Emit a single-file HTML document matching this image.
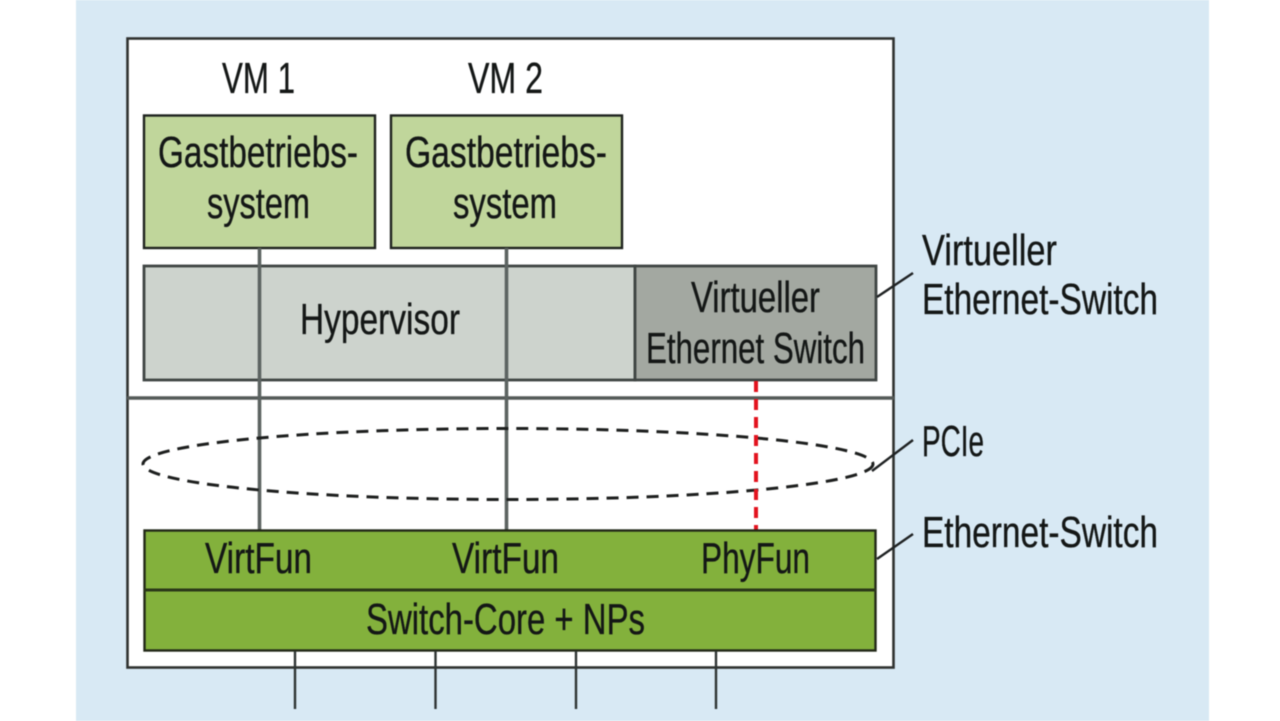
<!DOCTYPE html>
<html>
<head>
<meta charset="utf-8">
<style>
html,body{margin:0;padding:0;background:#fff;width:1280px;height:721px;overflow:hidden}
svg{display:block}
text{font-family:"Liberation Sans",sans-serif;font-size:44px;fill:#141716;stroke:#141716;stroke-width:0.35px;text-anchor:start}
</style>
</head>
<body>
<svg width="1280" height="721" viewBox="0 0 1280 721" xmlns="http://www.w3.org/2000/svg">
<g style="filter:blur(0.6px)">
<rect x="76" y="0" width="1133" height="721" fill="#d8e9f4"/>
<rect x="127.5" y="38.5" width="766" height="629" fill="#fff" stroke="#2f3230" stroke-width="2.6"/>
<line x1="127" y1="398" x2="894" y2="398" stroke="#555a58" stroke-width="3.4"/>

<rect x="144" y="115.5" width="231" height="132.5" fill="#c0d69b" stroke="#1f231f" stroke-width="2.4"/>
<rect x="391" y="115.5" width="231" height="132.5" fill="#c0d69b" stroke="#1f231f" stroke-width="2.4"/>

<rect x="144" y="266" width="491" height="114" fill="#cdd3cd" stroke="#3f4543" stroke-width="2.8"/>
<rect x="635" y="266" width="241" height="114" fill="#a3a8a1" stroke="#3f4543" stroke-width="2.8"/>

<line x1="259.500" y1="248" x2="259.500" y2="530" stroke="#5c6361" stroke-width="3.6"/>
<line x1="506.500" y1="248" x2="506.500" y2="530" stroke="#5c6361" stroke-width="3.6"/>

<ellipse cx="508" cy="464" rx="365" ry="35.500" fill="none" stroke="#1d1f1e" stroke-width="3" stroke-dasharray="12 8"/>
<line x1="756" y1="381" x2="756" y2="530" stroke="#e3141f" stroke-width="4" stroke-dasharray="11 7"/>

<rect x="144.500" y="530.500" width="731" height="120" fill="#83b13c" stroke="#222818" stroke-width="2.400"/>
<line x1="144" y1="590" x2="876" y2="590" stroke="#2a3818" stroke-width="3"/>

<g stroke="#2f3433" stroke-width="2.400">
<line x1="295" y1="651" x2="295" y2="709"/>
<line x1="435.500" y1="651" x2="435.500" y2="709"/>
<line x1="576" y1="651" x2="576" y2="709"/>
<line x1="716" y1="651" x2="716" y2="709"/>
</g>

<g stroke="#1f2223" stroke-width="2.400" fill="none">
<line x1="877" y1="297" x2="913" y2="273"/>
<line x1="872" y1="471" x2="913" y2="440"/>
<line x1="877" y1="559" x2="913" y2="534"/>
</g>

<text x="222" y="93" textLength="73" lengthAdjust="spacingAndGlyphs">VM 1</text>
<text x="468" y="93" textLength="75" lengthAdjust="spacingAndGlyphs">VM 2</text>
<text x="158" y="167" textLength="200" lengthAdjust="spacingAndGlyphs">Gastbetriebs-</text>
<text x="207" y="218" textLength="103" lengthAdjust="spacingAndGlyphs">system</text>
<text x="405" y="167" textLength="202" lengthAdjust="spacingAndGlyphs">Gastbetriebs-</text>
<text x="453" y="218" textLength="104" lengthAdjust="spacingAndGlyphs">system</text>
<text x="300" y="334" textLength="160" lengthAdjust="spacingAndGlyphs">Hypervisor</text>
<text x="691" y="312" textLength="129" lengthAdjust="spacingAndGlyphs">Virtueller</text>
<text x="646" y="363" textLength="219" lengthAdjust="spacingAndGlyphs">Ethernet Switch</text>
<text x="922" y="265" textLength="135" lengthAdjust="spacingAndGlyphs">Virtueller</text>
<text x="922" y="314" textLength="236" lengthAdjust="spacingAndGlyphs">Ethernet-Switch</text>
<text x="922" y="456" textLength="62" lengthAdjust="spacingAndGlyphs">PCIe</text>
<text x="922" y="547" textLength="236" lengthAdjust="spacingAndGlyphs">Ethernet-Switch</text>
<text x="205" y="573" textLength="107" lengthAdjust="spacingAndGlyphs">VirtFun</text>
<text x="452" y="573" textLength="107" lengthAdjust="spacingAndGlyphs">VirtFun</text>
<text x="701" y="573" textLength="109" lengthAdjust="spacingAndGlyphs">PhyFun</text>
<text x="366" y="634" textLength="279" lengthAdjust="spacingAndGlyphs">Switch-Core + NPs</text>
</g>
</svg>
</body>
</html>
